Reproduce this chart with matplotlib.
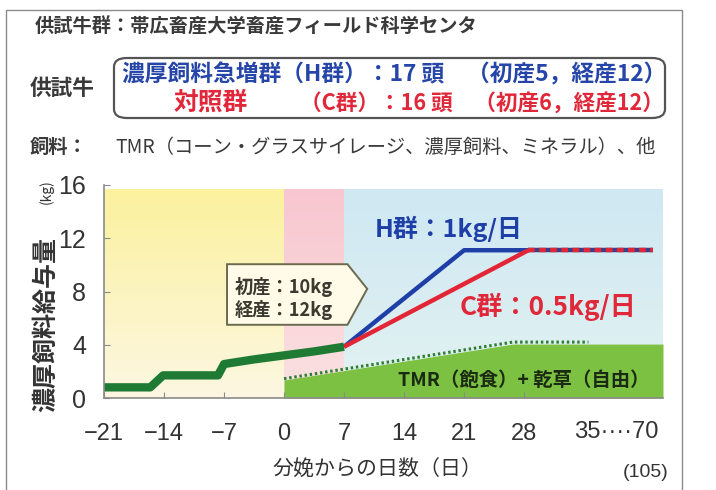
import matplotlib
matplotlib.use('Agg')
import matplotlib.pyplot as plt
import numpy as np
from matplotlib.patches import FancyBboxPatch, Polygon, Rectangle
from matplotlib.colors import LinearSegmentedColormap

plt.rcParams['font.family'] = ['Noto Sans CJK JP', 'DejaVu Sans']

# ---- data ----
pre_days = [-21, -15.6, -14.1, -7.7, -7, -3.5, 0, 3.5, 7]
pre_conc = [0.8, 0.8, 1.7, 1.7, 2.55, 2.9, 3.2, 3.5, 3.85]
h_days = [7, 21, 28.5]
h_conc = [3.85, 11.1, 11.1]
c_days = [7, 28.5]
c_conc = [3.85, 11.1]
cont_days = [28.5, 43]
cont_conc = [11.1, 11.1]
tmr_days = [0, 26.7, 44.2]
tmr_fill = [1.35, 4.05, 4.05]
tmr_line_days = [0, 26.7, 35.5]
tmr_line = [1.45, 4.2, 4.2]
periods = [(-21, 0), (0, 7), (7, 44.2)]
period_colors = [("#fbf19e", "#fdf7e2"), ("#f8c6d0", "#fbe2e2"), ("#cfe8f3", "#e2f2f1")]
xticks = [-21, -14, -7, 0, 7, 14, 21, 28]
xtick_labels = ["−21", "−14", "−7", "0", "7", "14", "21", "28"]
yticks = [0, 4, 8, 12, 16]

W, H = 716, 490
fig = plt.figure(figsize=(W / 100, H / 100), dpi=100)
fig.patch.set_facecolor('white')


def fx(x):
    return x / W


def fy(y):
    return 1 - y / H


renderer = fig.canvas.get_renderer()


def fit(x0, x1, y, s, size, **kw):
    """Place a text with its left edge at x0 and scale it to end at x1 (pixels)."""
    t = fig.text(fx(x0), fy(y), s, fontsize=size, va='center', ha='left', **kw)
    w = t.get_window_extent(renderer).width
    t.set_fontsize(size * (x1 - x0) / w)
    return t


# outer frame
fig.patches.append(Rectangle((fx(6), fy(496)), fx(676), (496 - 10) / H,
                             transform=fig.transFigure, fill=False,
                             edgecolor='#8a8a8a', lw=1.0))

# ---- header texts ----
fit(35, 478, 27, "供試牛群：帯広畜産大学畜産フィールド科学センタ", 15,
    color='#3a3a3a', fontweight='bold')
fit(30, 95, 88, "供試牛", 15, color='#3a3a3a', fontweight='bold')
box = FancyBboxPatch((fx(114), fy(118)), fx(665) - fx(114), fy(58) - fy(118),
                     boxstyle="round,pad=0,rounding_size=0.018",
                     transform=fig.transFigure, facecolor='white',
                     edgecolor='#555555', lw=1.6)
fig.patches.append(box)
fit(122, 664, 75, "濃厚飼料急増群（H群）：17 頭　（初産5，経産12）", 13,
    color='#2545a8', fontweight='bold')
fit(174, 248, 103, "対照群", 13, color='#e0283a', fontweight='bold')
fit(300, 664, 103, "（C群）：16 頭　（初産6，経産12）", 13,
    color='#e0283a', fontweight='bold')
fit(30, 88, 147, "飼料：", 15, color='#3a3a3a', fontweight='bold')
fit(115, 655, 147, "TMR（コーン・グラスサイレージ、濃厚飼料、ミネラル）、他", 12,
    color='#3a3a3a')

# ---- plot area ----
ax = fig.add_axes([fx(104), fy(398), fx(663) - fx(104), (398 - 185) / H])
ax.set_xlim(-21, 44.2)
ax.set_ylim(0, 16)
ax.set_facecolor('none')

bg_top = 15.65
for (d0, d1), (ctop, cbot) in zip(periods, period_colors):
    cmap = LinearSegmentedColormap.from_list('bg', [cbot, ctop])
    grad = np.linspace(0, 1, 100).reshape(-1, 1)
    ax.imshow(grad, cmap=cmap, origin='lower', aspect='auto',
              extent=(d0, d1, 0, bg_top), zorder=0)

# TMR + hay area
ax.fill_between(tmr_days, 0, tmr_fill, color='#7cc142', lw=0, zorder=1)
ax.plot(tmr_line_days, tmr_line, color='#2e7d32', lw=2.2,
        linestyle=(0, (0.8, 0.9)), zorder=2)

# concentrate feeding lines
ax.plot(pre_days, pre_conc, color='#1f7a34', lw=6, solid_capstyle='butt',
        solid_joinstyle='round', zorder=4)
ax.plot(h_days, h_conc, color='#1f3fa8', lw=3.2, solid_capstyle='butt', zorder=3)
ax.plot(c_days, c_conc, color='#e32636', lw=3.2, solid_capstyle='butt', zorder=3)
ax.plot(cont_days, cont_conc, color='#3a3f8a', lw=3.2, solid_capstyle='butt', zorder=3)
ax.plot(cont_days, cont_conc, color='#e32636', lw=3.2, linestyle=(0, (1.5, 1.0)),
        solid_capstyle='butt', zorder=3)

# callout
call = Polygon([(-6.65, 10.05), (7.4, 10.05), (9.7, 8.2), (7.4, 5.5), (-6.65, 5.5)],
               closed=True, facecolor='#fffbe8', edgecolor='#6b6a4e', lw=1.4, zorder=5)
ax.add_patch(call)
for t in (fit(235, 333, 287, "初産：10kg", 13, color='#3a3a30', fontweight='bold'),
          fit(235, 333, 310, "経産：12kg", 13, color='#3a3a30', fontweight='bold')):
    t.set_zorder(6)

# group labels
fit(375, 523, 229, "H群：1kg/日", 18, color='#1f3fa8', fontweight='bold')
fit(460, 637, 307, "C群：0.5kg/日", 18, color='#e0283a', fontweight='bold')
fit(398, 650, 380, "TMR（飽食）+ 乾草（自由）", 14, color='#1b2a12', fontweight='bold')

# axes styling
for s in ['top', 'right']:
    ax.spines[s].set_visible(False)
for s in ['left', 'bottom']:
    ax.spines[s].set_color('#8a8a8a')
    ax.spines[s].set_linewidth(1.2)
    ax.spines[s].set_zorder(7)
narrow = ['Liberation Sans Narrow', 'Liberation Sans', 'DejaVu Sans']
ax.set_yticks(yticks)
ax.set_yticklabels([str(v) for v in yticks], fontsize=18, color='#333333',
                   family=narrow)
ax.set_xticks(xticks)
ax.set_xticklabels(xtick_labels, fontsize=17, color='#333333', family=narrow)
ax.tick_params(axis='both', direction='in', length=4, color='#8a8a8a')
ax.tick_params(axis='y', pad=13)
ax.tick_params(axis='x', pad=18)

fit(574, 658, 432, "35····70", 17, color='#333333', family=narrow)

fit(272, 482, 470, "分娩からの日数（日）", 15, color='#333333')
fig.text(fx(646), fy(472), "(105)", fontsize=14, color='#333333',
         ha='center', va='center', family=narrow)

# y label
fig.text(fx(46), fy(325), "濃厚飼料給与量", rotation=90, fontsize=18,
         color='#333333', fontweight='bold', ha='center', va='center')
fig.text(fx(46), fy(192), "(kg)", rotation=90, fontsize=10,
         color='#333333', ha='center', va='center')

fig.savefig('out.png', dpi=100)
